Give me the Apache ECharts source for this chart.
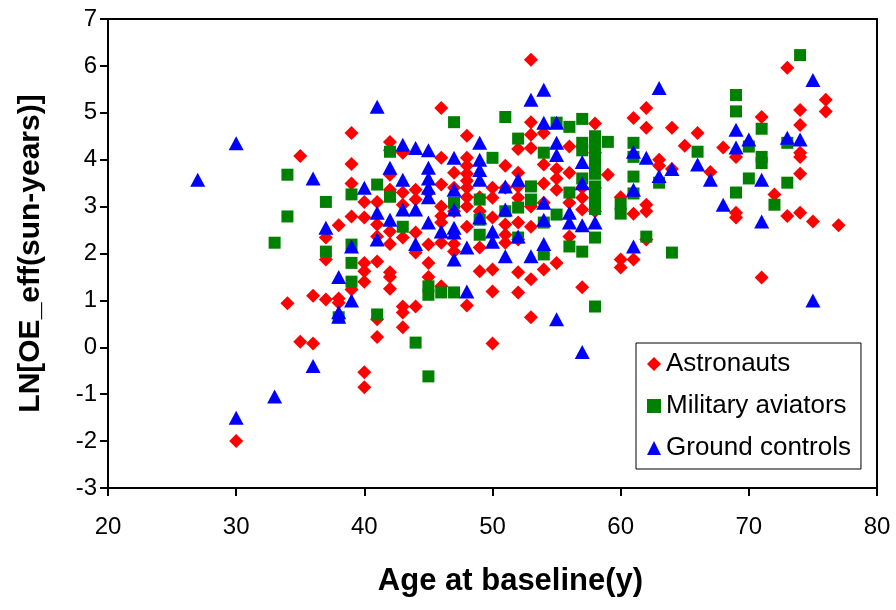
<!DOCTYPE html>
<html>
<head>
<meta charset="utf-8">
<script src="https://cdn.jsdelivr.net/npm/echarts@6/dist/echarts.min.js"></script>
<style>
  html, body { margin: 0; padding: 0; background: #fff; }
  #chart { width: 896px; height: 610px; }
</style>
</head>
<body>
<div id="chart"></div>
<script>
// [age, LN(OE_eff)]
const astronauts = [
  [30, -2.0], [34, 0.94], [35, 4.08], [35, 0.12], [36, 1.1], [36, 0.08],
  [37, 2.34], [37, 1.87], [37, 1.02], [38, 2.6], [38, 1.04], [38, 0.95],
  [39, 4.57], [39, 3.91], [39, 3.49], [39, 2.79], [39, 1.23],
  [40, 3.1], [40, 2.77], [40, 1.8], [40, 1.62], [40, 1.4], [40, -0.53], [40, -0.85],
  [41, 3.1], [41, 2.62], [41, 2.36], [41, 1.83], [41, 0.6], [41, 0.22],
  [42, 4.38], [42, 4.2], [42, 3.68], [42, 3.36], [42, 2.47], [42, 2.2], [42, 1.6], [42, 1.5], [42, 1.25],
  [43, 4.15], [43, 3.3], [43, 3.04], [43, 2.34], [43, 0.87], [43, 0.74], [43, 0.43],
  [44, 3.36], [44, 3.15], [44, 2.45], [44, 2.02], [44, 0.87],
  [45, 3.3], [45, 2.19], [45, 1.8], [45, 1.5],
  [46, 5.1], [46, 4.04], [46, 3.47], [46, 3.0], [46, 2.8], [46, 2.66], [46, 2.23], [46, 1.3],
  [47, 3.72], [47, 3.4], [47, 2.9], [47, 2.2], [47, 2.04],
  [48, 4.51], [48, 4.04], [48, 3.87], [48, 3.7], [48, 3.55], [48, 3.4], [48, 3.2], [48, 3.0], [48, 2.57], [48, 0.89],
  [49, 3.2], [49, 2.9], [49, 2.13], [49, 1.62],
  [50, 3.4], [50, 3.19], [50, 2.77], [50, 1.66], [50, 1.19], [50, 0.08],
  [51, 3.87], [51, 3.4], [51, 2.62], [51, 2.4], [51, 2.23],
  [52, 4.23], [52, 3.72], [52, 3.43], [52, 3.19], [52, 2.66], [52, 2.3], [52, 1.6], [52, 1.17],
  [53, 6.13], [53, 4.8], [53, 4.53], [53, 4.25], [53, 3.0], [53, 2.57], [53, 1.45], [53, 0.64],
  [54, 4.57], [54, 3.9], [54, 3.49], [54, 3.08], [54, 1.66],
  [55, 3.8], [55, 3.6], [55, 3.36], [55, 1.8],
  [56, 4.28], [56, 3.72], [56, 3.08], [56, 2.36],
  [57, 3.4], [57, 3.19], [57, 2.94], [57, 1.28],
  [58, 4.77], [58, 4.15], [58, 3.4], [58, 2.9],
  [59, 3.68], [60, 3.2], [60, 1.87], [60, 1.7],
  [61, 4.89], [61, 2.85], [61, 1.87],
  [62, 5.1], [62, 4.68], [62, 3.04], [62, 2.9], [62, 2.3],
  [63, 4.0], [63, 3.87], [64, 4.68], [64, 3.8], [65, 4.3], [66, 4.57],
  [67, 3.74], [68, 4.26], [69, 4.06], [69, 2.87], [69, 2.77],
  [71, 4.91], [71, 1.49], [72, 3.26], [73, 5.96], [73, 2.8],
  [74, 5.06], [74, 4.74], [74, 4.15], [74, 4.06], [74, 3.7], [74, 2.87],
  [75, 2.68], [76, 5.28], [76, 5.03], [77, 2.6]
]

const aviators = [
  [33, 2.23], [34, 3.68], [34, 2.79], [37, 3.1], [37, 2.04], [38, 0.64],
  [39, 3.26], [39, 2.19], [39, 1.8], [39, 1.4],
  [41, 3.47], [41, 0.7], [42, 4.17], [42, 3.21], [43, 2.57], [44, 0.1],
  [45, 1.3], [45, 1.12], [45, -0.62], [46, 1.17], [47, 4.8], [47, 3.08], [47, 1.17],
  [49, 3.15], [49, 2.72], [49, 2.4], [50, 4.04], [51, 4.91], [51, 2.9],
  [52, 4.45], [52, 2.98], [52, 2.34], [53, 3.43], [53, 3.15],
  [54, 4.15], [54, 2.66], [54, 1.98], [55, 4.79], [55, 2.83],
  [56, 4.7], [56, 3.3], [56, 2.15],
  [57, 4.87], [57, 4.36], [57, 4.2], [57, 3.6], [57, 2.04],
  [58, 4.5], [58, 4.3], [58, 4.1], [58, 3.85], [58, 3.7], [58, 3.43], [58, 3.2], [58, 2.95], [58, 2.34], [58, 0.87],
  [59, 4.38], [60, 3.05], [60, 2.85],
  [61, 4.36], [61, 4.06], [61, 3.64], [61, 3.28], [62, 2.36], [63, 3.51], [64, 2.02], [66, 4.17],
  [69, 5.38], [69, 5.03], [69, 3.3], [70, 4.28], [70, 3.6],
  [71, 4.66], [71, 4.06], [71, 3.93], [72, 3.04], [73, 4.36], [73, 3.51], [74, 6.23]
]

const controls = [
  [27, 3.57], [30, 4.35], [30, -1.5], [33, -1.05], [36, 3.6], [36, -0.4], [37, 2.55],
  [38, 1.5], [38, 0.75], [38, 0.65], [39, 2.15], [39, 1.0], [40, 3.4],
  [41, 5.13], [41, 2.87], [41, 2.3], [42, 3.83], [42, 2.72],
  [43, 4.32], [43, 3.57], [43, 2.94], [44, 4.25], [44, 2.94], [44, 2.2],
  [45, 4.2], [45, 3.83], [45, 3.6], [45, 3.4], [45, 3.2], [45, 2.66], [46, 2.47],
  [47, 4.04], [47, 3.36], [47, 2.94], [47, 2.55], [47, 2.45], [47, 1.87],
  [48, 2.13], [48, 1.19], [49, 4.36], [49, 4.0], [49, 3.78], [49, 3.57], [49, 2.77],
  [50, 2.47], [50, 2.25], [51, 3.43], [51, 2.94], [51, 1.94], [52, 3.57], [52, 2.36],
  [53, 5.28], [53, 1.94], [54, 5.49], [54, 4.79], [54, 3.08], [54, 2.72], [54, 2.2],
  [55, 4.79], [55, 4.36], [55, 4.1], [55, 0.6], [56, 2.87], [56, 2.66],
  [57, 3.95], [57, 3.5], [57, 2.6], [57, -0.1], [58, 2.66],
  [61, 4.17], [61, 3.36], [61, 2.15], [62, 4.04], [63, 5.53], [63, 3.65], [64, 3.8],
  [66, 3.9], [67, 3.57], [68, 3.04], [69, 4.64], [69, 4.26], [70, 4.43],
  [71, 3.57], [71, 2.68], [73, 4.47], [74, 4.43], [75, 5.7], [75, 1.0]
]

const font = "'Liberation Sans', Arial, sans-serif"

const chart = echarts.init(document.getElementById('chart'), null, { renderer: 'canvas' })

chart.setOption({
  animation: false,
  backgroundColor: '#fff',
  textStyle: { fontFamily: font },
  grid: {
    left: 108, right: 19, top: 19, bottom: 122,
    show: true, borderColor: '#000', borderWidth: 2, backgroundColor: 'transparent'
  },
  legend: {
    orient: 'vertical',
    left: 636, top: 343,
    padding: [8, 10, 8, 11],
    itemGap: 16,
    itemWidth: 14, itemHeight: 14,
    borderColor: '#000', borderWidth: 1,
    backgroundColor: '#fff',
    textStyle: { fontSize: 26, lineHeight: 26, color: '#000', fontFamily: font },
    data: [
      { name: 'Astronauts', icon: 'diamond' },
      { name: 'Military aviators', icon: 'rect' },
      { name: 'Ground controls', icon: 'triangle' }
    ]
  },
  xAxis: {
    type: 'value',
    min: 20, max: 80, interval: 10,
    name: 'Age at baseline(y)',
    nameLocation: 'middle',
    nameGap: 78,
    nameTextStyle: { fontSize: 31, fontWeight: 'bold', color: '#000', fontFamily: font, padding: [0, 0, 0, 36] },
    axisLine: { onZero: false, lineStyle: { color: '#000', width: 2 } },
    axisTick: { length: 8, lineStyle: { color: '#000', width: 2 } },
    axisLabel: { fontSize: 24, color: '#000', margin: 27, fontFamily: font },
    splitLine: { show: false }
  },
  yAxis: {
    type: 'value',
    min: -3, max: 7, interval: 1,
    name: 'LN[OE_eff(sun-years)]',
    nameLocation: 'middle',
    nameGap: 62,
    nameRotate: 90,
    nameTextStyle: { fontSize: 30, fontWeight: 'bold', color: '#000', fontFamily: font },
    axisLine: { onZero: false, lineStyle: { color: '#000', width: 2 } },
    axisTick: { length: 8, lineStyle: { color: '#000', width: 2 } },
    axisLabel: { fontSize: 24, color: '#000', margin: 11, fontFamily: font },
    splitLine: { show: false }
  },
  series: [
    {
      name: 'Astronauts', type: 'scatter', symbol: 'diamond', symbolSize: 14,
      itemStyle: { color: '#ff0000', opacity: 1 },
      data: astronauts
    },
    {
      name: 'Military aviators', type: 'scatter', symbol: 'rect', symbolSize: 12,
      itemStyle: { color: '#008000', opacity: 1 },
      data: aviators
    },
    {
      name: 'Ground controls', type: 'scatter', symbol: 'triangle', symbolSize: [15, 14],
      itemStyle: { color: '#0000ff', opacity: 1 },
      data: controls
    }
  ]
})
</script>
</body>
</html>
